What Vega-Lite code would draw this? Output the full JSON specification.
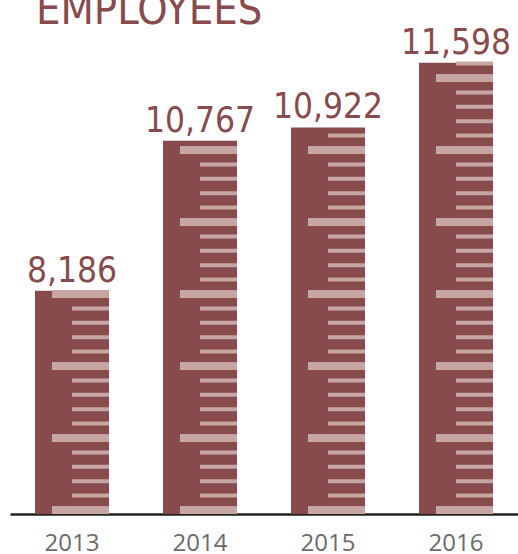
{
  "$schema": "https://vega.github.io/schema/vega-lite/v6.json",
  "width": 508,
  "height": 500,
  "autosize": {"type": "none"},
  "padding": {"left": 10, "top": 14, "right": 0, "bottom": 40},
  "background": "white",
  "title": {
    "text": "EMPLOYEES",
    "anchor": "start",
    "frame": "group",
    "font": "Liberation Sans Narrow, DejaVu Sans Condensed, sans-serif",
    "fontSize": 43,
    "fontWeight": "normal",
    "color": "#874b4d",
    "baseline": "alphabetic",
    "offset": -53,
    "dx": 26
  },
  "config": {
    "view": {"stroke": null},
    "axisX": {
      "labelAngle": 0,
      "ticks": false,
      "tickSize": 0,
      "grid": false,
      "domain": true,
      "domainColor": "#222222",
      "domainWidth": 2.5,
      "labelFont": "Open Sans",
      "labelFontSize": 24,
      "labelColor": "#6b6b6b",
      "labelPadding": 17
    }
  },
  "datasets": {
    "bars": [
      {"year": "2013", "employees": 8186},
      {"year": "2014", "employees": 10767},
      {"year": "2015", "employees": 10922},
      {"year": "2016", "employees": 11598}
    ],
    "ticks": [
      {"year":"2013","k":0},{"year":"2013","k":1},{"year":"2013","k":2},{"year":"2013","k":3},{"year":"2013","k":4},{"year":"2013","k":5},{"year":"2013","k":6},{"year":"2013","k":7},{"year":"2013","k":8},{"year":"2013","k":9},{"year":"2013","k":10},{"year":"2013","k":11},{"year":"2013","k":12},{"year":"2013","k":13},{"year":"2013","k":14},{"year":"2013","k":15},
      {"year":"2014","k":0},{"year":"2014","k":1},{"year":"2014","k":2},{"year":"2014","k":3},{"year":"2014","k":4},{"year":"2014","k":5},{"year":"2014","k":6},{"year":"2014","k":7},{"year":"2014","k":8},{"year":"2014","k":9},{"year":"2014","k":10},{"year":"2014","k":11},{"year":"2014","k":12},{"year":"2014","k":13},{"year":"2014","k":14},{"year":"2014","k":15},{"year":"2014","k":16},{"year":"2014","k":17},{"year":"2014","k":18},{"year":"2014","k":19},{"year":"2014","k":20},{"year":"2014","k":21},{"year":"2014","k":22},{"year":"2014","k":23},{"year":"2014","k":24},{"year":"2014","k":25},
      {"year":"2015","k":0},{"year":"2015","k":1},{"year":"2015","k":2},{"year":"2015","k":3},{"year":"2015","k":4},{"year":"2015","k":5},{"year":"2015","k":6},{"year":"2015","k":7},{"year":"2015","k":8},{"year":"2015","k":9},{"year":"2015","k":10},{"year":"2015","k":11},{"year":"2015","k":12},{"year":"2015","k":13},{"year":"2015","k":14},{"year":"2015","k":15},{"year":"2015","k":16},{"year":"2015","k":17},{"year":"2015","k":18},{"year":"2015","k":19},{"year":"2015","k":20},{"year":"2015","k":21},{"year":"2015","k":22},{"year":"2015","k":23},{"year":"2015","k":24},{"year":"2015","k":25},{"year":"2015","k":26},
      {"year":"2016","k":0},{"year":"2016","k":1},{"year":"2016","k":2},{"year":"2016","k":3},{"year":"2016","k":4},{"year":"2016","k":5},{"year":"2016","k":6},{"year":"2016","k":7},{"year":"2016","k":8},{"year":"2016","k":9},{"year":"2016","k":10},{"year":"2016","k":11},{"year":"2016","k":12},{"year":"2016","k":13},{"year":"2016","k":14},{"year":"2016","k":15},{"year":"2016","k":16},{"year":"2016","k":17},{"year":"2016","k":18},{"year":"2016","k":19},{"year":"2016","k":20},{"year":"2016","k":21},{"year":"2016","k":22},{"year":"2016","k":23},{"year":"2016","k":24},{"year":"2016","k":25},{"year":"2016","k":26},{"year":"2016","k":27},{"year":"2016","k":28},{"year":"2016","k":29},{"year":"2016","k":30},{"year":"2016","k":31}
    ]
  },
  "layer": [
    {
      "data": {"name": "bars"},
      "mark": {"type": "bar", "color": "#874b4d"},
      "encoding": {
        "x": {"field": "year", "type": "nominal", "title": null,
              "scale": {"type": "band", "paddingInner": 0.4219, "paddingOuter": 0.1953}},
        "y": {"field": "employees", "type": "quantitative", "axis": null,
              "scale": {"type": "pow", "exponent": 4, "domain": [-9689, 12037], "zero": false, "nice": false}},
        "y2": {"datum": -9689}
      }
    },
    {
      "data": {"name": "ticks"},
      "transform": [{"filter": "datum.k % 5 == 0"}],
      "mark": {"type": "tick", "orient": "horizontal", "color": "#c6a5a3", "opacity": 1, "size": 57, "thickness": 8, "xOffset": 8.5},
      "encoding": {
        "x": {"field": "year", "type": "nominal", "title": null},
        "y": {"field": "k", "type": "quantitative", "axis": null,
              "scale": {"domain": [-0.278, 34.444], "zero": false, "nice": false}}
      }
    },
    {
      "data": {"name": "ticks"},
      "transform": [{"filter": "datum.k % 5 != 0"}],
      "mark": {"type": "tick", "orient": "horizontal", "color": "#c6a5a3", "opacity": 1, "size": 37, "thickness": 4, "xOffset": 18.5},
      "encoding": {
        "x": {"field": "year", "type": "nominal", "title": null},
        "y": {"field": "k", "type": "quantitative", "axis": null,
              "scale": {"domain": [-0.278, 34.444], "zero": false, "nice": false}}
      }
    },
    {
      "data": {"name": "bars"},
      "mark": {"type": "text", "font": "Liberation Sans Narrow, DejaVu Sans Condensed, sans-serif", "fontSize": 35, "fontWeight": "normal", "color": "#874b4d", "baseline": "alphabetic", "dy": -9},
      "encoding": {
        "x": {"field": "year", "type": "nominal", "title": null},
        "y": {"field": "employees", "type": "quantitative", "axis": null,
              "scale": {"type": "pow", "exponent": 4, "domain": [-9689, 12037], "zero": false, "nice": false}},
        "text": {"field": "employees", "type": "quantitative", "format": ","}
      }
    }
  ],
  "resolve": {"scale": {"y": "independent"}}
}
